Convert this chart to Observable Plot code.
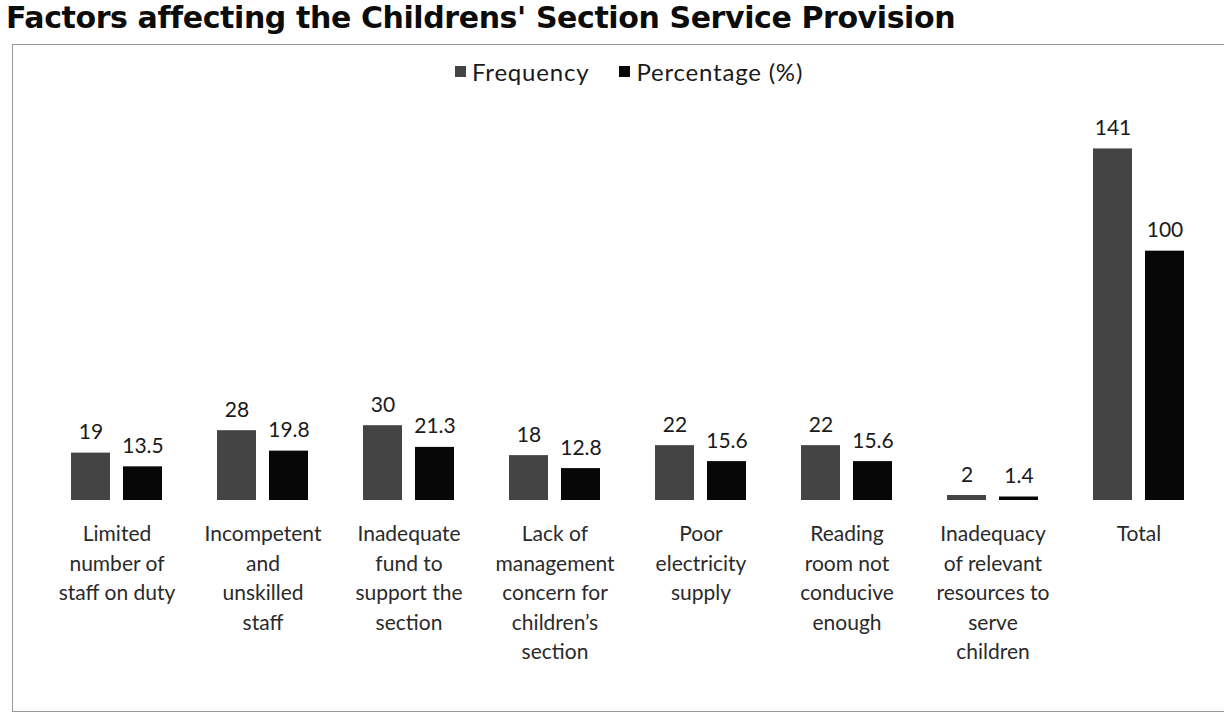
<!DOCTYPE html>
<html>
<head>
<meta charset="utf-8">
<script src="https://cdn.jsdelivr.net/npm/d3@7"></script>
<script src="https://cdn.jsdelivr.net/npm/@observablehq/plot@0.6"></script>
<style>
  html, body { margin: 0; padding: 0; background: #fff; width: 1224px; height: 718px; overflow: hidden; position: relative; }
  #title { position: absolute; top: 0px; left: 6px; font-family: "DejaVu Sans", sans-serif; font-weight: bold; font-size: 30px; line-height: 36px; color: #0c0c0c; white-space: nowrap; letter-spacing: -0.4px; }
  #frame { position: absolute; left: 12px; top: 44px; width: 1300px; height: 666px; border: 1px solid #9a9a9a; }
  #legend { position: absolute; top: 57px; left: 455px; display: flex; gap: 30px; font-family: Lato, "Open Sans", sans-serif; font-size: 24px; letter-spacing: 0.8px; color: #1a1a1a; }
  #legend span.item { display: flex; align-items: center; gap: 6px; }
  #legend span.sw { display: inline-block; width: 11px; height: 11px; }
  #chart { position: absolute; left: 0; top: 90px; }
</style>
</head>
<body>
<div id="title">Factors affecting the Childrens' Section Service Provision</div>
<div id="frame"></div>
<div id="legend"></div>
<div id="chart"></div>
<script>
const categories = ["Limited number of staff on duty", "Incompetent and unskilled staff", "Inadequate fund to support the section", "Lack of management concern for children's section", "Poor electricity supply", "Reading room not conducive enough", "Inadequacy of relevant resources to serve children", "Total"];
const tickLabels = ["Limited\nnumber of\nstaff on duty", "Incompetent\nand\nunskilled\nstaff", "Inadequate\nfund to\nsupport the\nsection", "Lack of\nmanagement\nconcern for\nchildren’s\nsection", "Poor\nelectricity\nsupply", "Reading\nroom not\nconducive\nenough", "Inadequacy\nof relevant\nresources to\nserve\nchildren", "Total"];
const series = ["Frequency", "Percentage (%)"];
const frequency = [19, 28, 30, 18, 22, 22, 2, 141];
const percentage = [13.5, 19.8, 21.3, 12.8, 15.6, 15.6, 1.4, 100];
const colors = ["#444444", "#070707"];

const data = [];
categories.forEach((c, i) => {
  data.push({category: c, series: series[0], value: frequency[i]});
  data.push({category: c, series: series[1], value: percentage[i]});
});
const labelOf = new Map(categories.map((c, i) => [c, tickLabels[i]]));

const legend = document.getElementById("legend");
series.forEach((s, i) => {
  const it = document.createElement("span");
  it.className = "item";
  const sw = document.createElement("span");
  sw.className = "sw";
  sw.style.background = colors[i];
  it.appendChild(sw);
  it.appendChild(document.createTextNode(s));
  legend.appendChild(it);
});

const chart = Plot.plot({
  width: 1224,
  height: 610,
  marginTop: 36,
  marginBottom: 200,
  marginLeft: 69,
  marginRight: 38,
  style: {fontFamily: "Lato, 'Open Sans', sans-serif", background: "transparent"},
  fx: {domain: categories, paddingInner: 0.38, paddingOuter: 0, label: null},
  x: {domain: series, paddingInner: 0.25, paddingOuter: 0, axis: null},
  y: {domain: [0, 150], axis: null},
  color: {domain: series, range: colors},
  marks: [
    Plot.barY(data, {fx: "category", x: "series", y: "value", fill: "series"}),
    Plot.text(data, {fx: "category", x: "series", y: "value", text: d => String(d.value), lineAnchor: "bottom", dy: -14, fontSize: 21, fill: "#1a1a1a"}),
    Plot.axisFx({anchor: "bottom", tickSize: 0, tickPadding: 20, lineHeight: 1.4, fontSize: 21, fill: "#2a2a2a", tickFormat: d => labelOf.get(d), label: null})
  ]
});
document.getElementById("chart").appendChild(chart);
</script>
</body>
</html>
